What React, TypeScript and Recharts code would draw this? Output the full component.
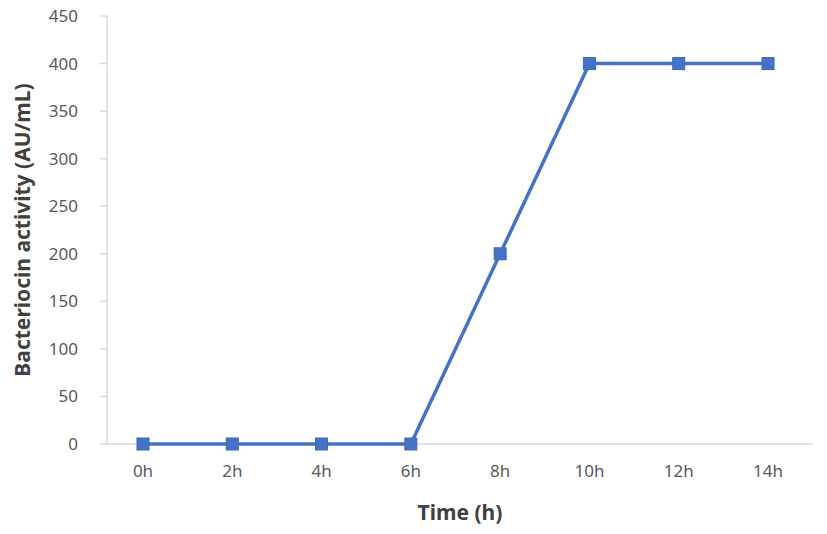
import { LineChart, Line, XAxis, YAxis, CartesianGrid } from 'recharts'

const times = ['0h', '2h', '4h', '6h', '8h', '10h', '12h', '14h']
const activity = [0, 0, 0, 0, 200, 400, 400, 400]
const yTicks = [0, 50, 100, 150, 200, 250, 300, 350, 400, 450]

const data = times.map((t, i) => ({ time: t, activity: activity[i] }))

const BLUE = '#4472C4'
const AXIS = '#D9D9D9'
const TEXT = '#595959'
const FONT = '"Noto Sans", "Open Sans", sans-serif'

function SquareDot(props: any) {
  const { cx, cy, index } = props
  if (cx == null || cy == null) return null
  return <rect key={index} x={cx - 6} y={cy - 6} width={12} height={12} fill={BLUE} stroke="#3D68B5" strokeWidth={1} />
}

function YTitle(props: any) {
  const { viewBox } = props
  const x = viewBox.x + 22
  const y = viewBox.y + viewBox.height / 2
  return (
    <text
      x={x}
      y={y}
      transform={`rotate(-90, ${x}, ${y})`}
      textAnchor="middle"
      dominantBaseline="central"
      fill="#404040"
      fontSize={21}
      fontWeight="bold"
      fontFamily={FONT}
    >
      Bacteriocin activity (AU/mL)
    </text>
  )
}

export default function App() {
  return (
    <div style={{ position: 'absolute', left: 0, top: 0, width: 827, height: 534, background: '#fff' }}>
      <LineChart width={827} height={534} data={data} margin={{ top: 16, right: 14, left: 0, bottom: 10 }}>
        {/* baseline drawn as grid so the series sits on top of it */}
        <CartesianGrid vertical={false} horizontalValues={[0]} stroke={AXIS} strokeWidth={1.5} />
        <XAxis
          dataKey="time"
          height={80}
          padding={{ left: 36, right: 45 }}
          axisLine={false}
          tickLine={false}
          tickSize={0}
          tickMargin={21}
          tick={{ fill: TEXT, fontSize: 17, fontFamily: FONT }}
          label={{
            value: 'Time (h)',
            position: 'insideBottom',
            offset: 4,
            fill: '#404040',
            fontSize: 21,
            fontWeight: 'bold',
            fontFamily: FONT,
          }}
        />
        <YAxis
          width={107}
          domain={[0, 450]}
          ticks={yTicks}
          interval={0}
          tickSize={7}
          tickMargin={22}
          tickLine={{ stroke: AXIS, strokeWidth: 1.5 }}
          axisLine={{ stroke: AXIS, strokeWidth: 1.5 }}
          tick={{ fill: TEXT, fontSize: 17, fontFamily: FONT }}
          label={<YTitle />}
        />
        <Line
          type="linear"
          dataKey="activity"
          stroke={BLUE}
          strokeWidth={3.5}
          dot={<SquareDot />}
          activeDot={false}
          isAnimationActive={false}
        />
      </LineChart>
    </div>
  )
}
